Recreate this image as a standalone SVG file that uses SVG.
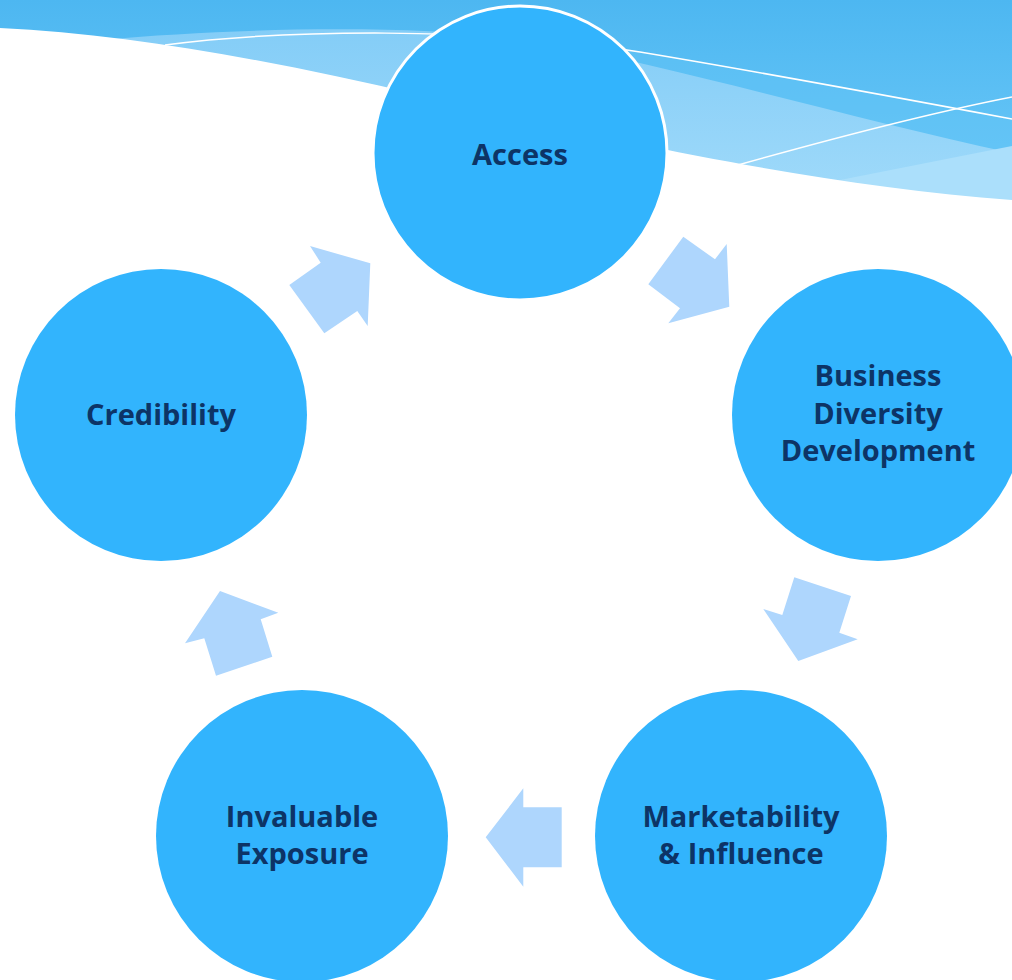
<svg xmlns="http://www.w3.org/2000/svg" width="1012" height="980" viewBox="0 0 1012 980">
  <defs>
    <linearGradient id="gTop" x1="0" y1="0" x2="0" y2="200" gradientUnits="userSpaceOnUse">
      <stop offset="0" stop-color="#4db7f1"/>
      <stop offset="1" stop-color="#6dc9f8"/>
    </linearGradient>
    <linearGradient id="gLight" x1="0" y1="30" x2="0" y2="200" gradientUnits="userSpaceOnUse">
      <stop offset="0" stop-color="#84cdf7"/>
      <stop offset="1" stop-color="#a0dafa"/>
    </linearGradient>
    <style>
      .node circle { fill: #32b4fd; }
      .node text { font-family: "Open Sans", "Noto Sans", "Liberation Sans", sans-serif; font-weight: 700; font-size: 29px; fill: #0d3466; text-anchor: middle; }
      .arrow { fill: #aed6fd; }
      .wline { fill: none; stroke: #ffffff; stroke-width: 1.5; }
    </style>
  </defs>

  <g id="background">
    <rect x="0" y="0" width="1012" height="220" fill="url(#gTop)"/>
    <path d="M165,45 C280,30 480,26 640,52 C760,72 900,98 1012,119 V220 H0 Z" fill="#62c3f6" opacity="0.5"/>
    <path d="M100,40 C250,27 430,24 540,42 C680,68 850,118 1012,153 V220 H100 Z" fill="url(#gLight)"/>
    <path d="M830,182 L1012,146 V220 H830 Z" fill="#abdffb"/>
    <path class="wline" d="M165,45 C280,30 480,26 640,52 C760,72 900,98 1012,119"/>
    <path class="wline" d="M738,165 C820,142 920,115 1012,97"/>
    <path d="M0,28 C130,34 280,62 420,95 S800,185 1012,200 V980 H0 Z" fill="#ffffff"/>
  </g>

  <g id="connectors">
    <polygon class="arrow" points="310,246 320.7,262.7 289.3,285 324.3,333.3 357.3,311 367.7,326 370.3,263.3"/>
    <polygon class="arrow" points="683.3,236.7 715,259.3 726.7,244 729.3,306.7 668.3,323.3 680,308.3 648.3,284.3"/>
    <polygon class="arrow" points="794.3,577.3 851,596 839.3,632.7 857.7,639.3 798.3,661 763.3,609 782.3,615"/>
    <polygon class="arrow" points="523.3,788.3 523.3,807.3 561.7,807.3 561.7,867.3 523.3,867.3 523.3,886.7 485.7,837.3"/>
    <polygon class="arrow" points="220,591 278.3,612.7 260.7,619.3 272.3,656.7 216,675.7 204.3,638.3 185,643.3"/>
  </g>

  <g id="node-access" class="node">
    <circle cx="520" cy="153" r="147" stroke="#ffffff" stroke-width="3"/>
    <text x="520" y="165">Access</text>
  </g>
  <g id="node-business" class="node">
    <circle cx="878" cy="415" r="146"/>
    <text x="878" y="386">Business</text>
    <text x="878" y="423.5">Diversity</text>
    <text x="878" y="461">Development</text>
  </g>
  <g id="node-marketability" class="node">
    <circle cx="741" cy="836" r="146"/>
    <text x="741" y="827">Marketability</text>
    <text x="741" y="864">&amp; Influence</text>
  </g>
  <g id="node-invaluable" class="node">
    <circle cx="302" cy="836" r="146"/>
    <text x="302" y="827">Invaluable</text>
    <text x="302" y="864">Exposure</text>
  </g>
  <g id="node-credibility" class="node">
    <circle cx="161" cy="415" r="146"/>
    <text x="161" y="425">Credibility</text>
  </g>
</svg>
